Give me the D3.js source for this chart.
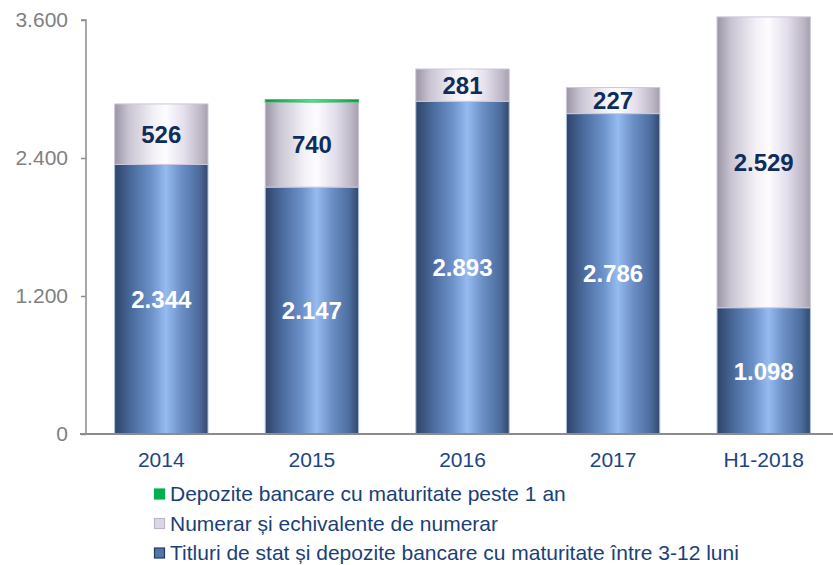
<!DOCTYPE html>
<html>
<head>
<meta charset="utf-8">
<script src="https://cdn.jsdelivr.net/npm/d3@7"></script>
<style>
  html, body { margin: 0; padding: 0; background: #fff; }
  svg { display: block; font-family: "Liberation Sans", Arial, sans-serif; }
</style>
</head>
<body>
<svg id="chart" width="833" height="565"></svg>
<script>
// Categories and stacked series (values in the chart's units)
const categories = ["2014", "2015", "2016", "2017", "H1-2018"];
const titluri   = [2344, 2147, 2893, 2786, 1098];
const numerar   = [526, 740, 281, 227, 2529];
const depozite  = [0, 20, 0, 0, 0];
const yTicks    = [0, 1200, 2400, 3600];

const seriesNames = [
  "Depozite bancare cu maturitate peste 1 an",
  "Numerar și echivalente de numerar",
  "Titluri de stat și depozite bancare cu maturitate între 3-12 luni"
];

const locale = d3.formatLocale({ decimal: ",", thousands: ".", grouping: [3], currency: ["", ""] });
const fmt = locale.format(",");

const svg = d3.select("#chart");
const x = d3.scaleBand().domain(categories).range([86, 839]).paddingInner(0.38).paddingOuter(0.19);
const y = d3.scaleLinear().domain([0, 3600]).range([434, 20]);

// Cylinder-like horizontal gradients
const defs = svg.append("defs");
function grad(id, stops) {
  const g = defs.append("linearGradient").attr("id", id)
    .attr("x1", "0%").attr("x2", "100%").attr("y1", "0%").attr("y2", "0%");
  stops.forEach(s => g.append("stop").attr("offset", s[0]).attr("stop-color", s[1]));
}
grad("gBlue", [["0%", "#2f4468"], ["18%", "#4a6a9c"], ["40%", "#6d93cb"], ["55%", "#95bbf0"], ["72%", "#6b8ec4"], ["90%", "#4d6d9f"], ["100%", "#34486c"]]);
grad("gGrey", [["0%", "#9a94a4"], ["15%", "#c9c4d2"], ["42%", "#f3f1f7"], ["55%", "#fdfcff"], ["75%", "#e3deeb"], ["92%", "#bdb7c6"], ["100%", "#a59fae"]]);
grad("gGreen", [["0%", "#0f7a3a"], ["50%", "#5ff09a"], ["100%", "#12843f"]]);

const rows = categories.map((c, i) => ({ cat: c, titluri: titluri[i], numerar: numerar[i], depozite: depozite[i] }));
const stack = d3.stack().keys(["titluri", "numerar", "depozite"])(rows);
const fills = { titluri: "url(#gBlue)", numerar: "url(#gGrey)", depozite: "url(#gGreen)" };
const strokes = { titluri: "#a9c0df", numerar: "#cfc6dc", depozite: "#2fbf6a" };

// Axes
const axisColor = "#8c8c8c";
const yAxis = svg.append("g").attr("transform", "translate(86,0)")
  .call(d3.axisLeft(y).tickValues(yTicks).tickSize(5).tickPadding(13).tickFormat(fmt));
yAxis.select(".domain").attr("stroke", axisColor).attr("stroke-width", 1.5).attr("d", "M-5,20H0V434");
yAxis.selectAll(".tick line").attr("stroke", axisColor).attr("stroke-width", 1.5);
yAxis.selectAll(".tick text").attr("fill", "#808080").attr("font-size", 21);

// Bars
stack.forEach(layer => {
  const key = layer.key;
  svg.append("g").selectAll("rect").data(layer).join("rect")
    .filter(d => d[1] - d[0] > 0)
    .attr("x", d => x(d.data.cat))
    .attr("width", x.bandwidth())
    .attr("y", d => y(d[1]))
    .attr("height", d => y(d[0]) - y(d[1]))
    .attr("fill", fills[key])
    .attr("stroke", strokes[key])
    .attr("stroke-width", 1);
});

const xAxis = svg.append("g").attr("transform", "translate(0,434)")
  .call(d3.axisBottom(x).tickSize(0).tickPadding(18));
xAxis.select(".domain").attr("stroke", axisColor).attr("stroke-width", 2).attr("d", "M80,0H833");
xAxis.selectAll(".tick text").attr("fill", "#1b4684").attr("font-size", 21);

// Value labels
const labelLayers = [
  { layer: stack[0], color: "#ffffff" },
  { layer: stack[1], color: "#0f2d5a" }
];
labelLayers.forEach(({ layer, color }) => {
  svg.append("g").selectAll("text").data(layer).join("text")
    .attr("x", d => x(d.data.cat) + x.bandwidth() / 2)
    .attr("y", d => (y(d[0]) + y(d[1])) / 2)
    .attr("dy", "0.36em")
    .attr("text-anchor", "middle")
    .attr("font-size", 24)
    .attr("font-weight", "bold")
    .attr("fill", color)
    .text(d => fmt(d[1] - d[0]));
});

// Legend
const legendItems = [
  { name: seriesNames[0], fill: "#00b050", stroke: "#00b050" },
  { name: seriesNames[1], fill: "#dcd7e4", stroke: "#bdb6c8" },
  { name: seriesNames[2], fill: "#5575a6", stroke: "#223a63" }
];
const legend = svg.append("g");
legendItems.forEach((it, i) => {
  const yy = 494 + i * 29.5;
  legend.append("rect").attr("x", 154.5).attr("y", yy - 5).attr("width", 10).attr("height", 10)
    .attr("fill", it.fill).attr("stroke", it.stroke).attr("stroke-width", 1.2);
  legend.append("text").attr("x", 170).attr("y", yy).attr("dy", "0.35em")
    .attr("font-size", 21).attr("fill", "#1b3f78").text(it.name);
});
</script>
</body>
</html>
